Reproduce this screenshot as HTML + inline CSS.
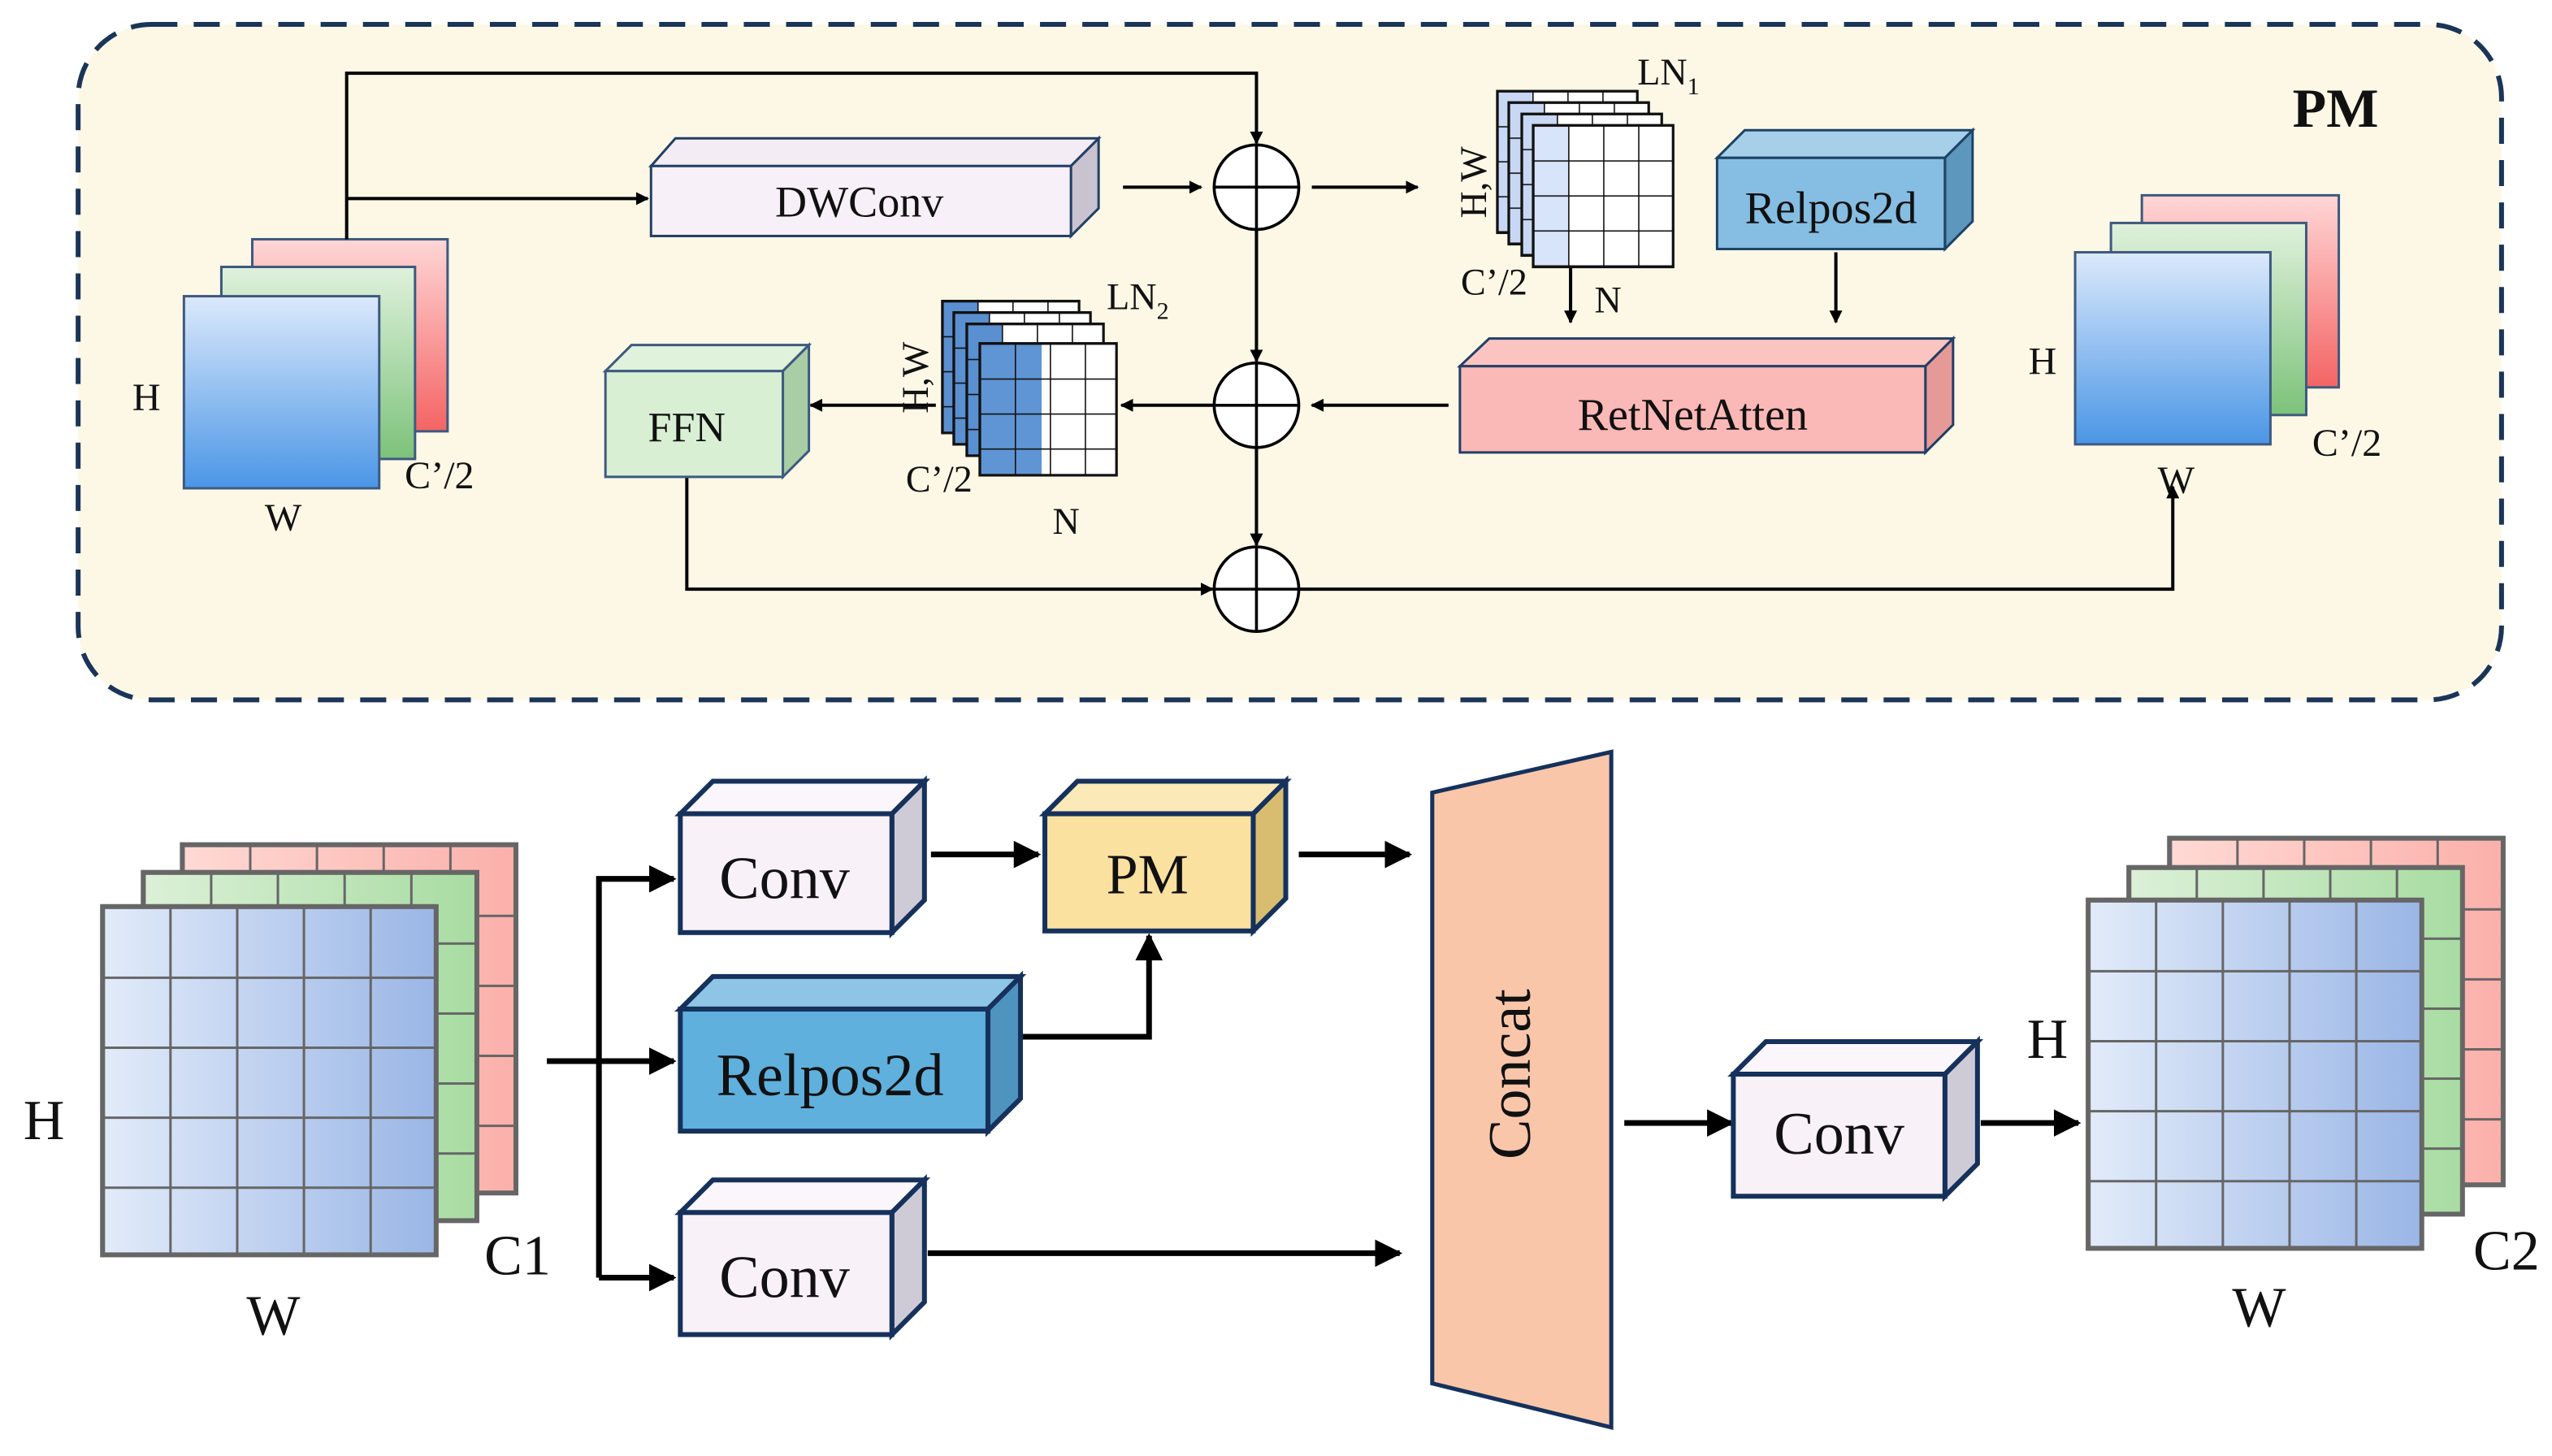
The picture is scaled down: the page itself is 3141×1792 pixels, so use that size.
<!DOCTYPE html>
<html><head><meta charset="utf-8"><style>
html,body{margin:0;padding:0;background:#fff;}
svg{display:block}
text{font-family:"Liberation Serif","DejaVu Serif","Times New Roman",serif;fill:#111}
</style></head><body>
<svg width="3141" height="1792" viewBox="0 0 1568 894.6" preserveAspectRatio="none" xmlns="http://www.w3.org/2000/svg" font-family="Liberation Serif, DejaVu Serif, serif">
<defs>
<marker id="a" viewBox="0 0 10 10" refX="9" refY="5" markerWidth="4.8" markerHeight="4.8" orient="auto"><path d="M0 0L10 5L0 10z" fill="#000"/></marker>
<marker id="b" viewBox="0 0 10 10" refX="9" refY="5" markerWidth="4" markerHeight="4" orient="auto"><path d="M0 0L10 5L0 10z" fill="#000"/></marker>
<linearGradient id="gb" x1="0" y1="0" x2="0" y2="1"><stop offset="0" stop-color="#dce9fb"/><stop offset="1" stop-color="#4a96e6"/></linearGradient>
<linearGradient id="gg" x1="0" y1="0" x2="0" y2="1"><stop offset="0" stop-color="#dff1dc"/><stop offset="1" stop-color="#7cc27a"/></linearGradient>
<linearGradient id="gr" x1="0" y1="0" x2="0" y2="1"><stop offset="0" stop-color="#ffd6d6"/><stop offset="1" stop-color="#f46464"/></linearGradient>
<linearGradient id="hb" x1="0" y1="0" x2="1" y2="0"><stop offset="0" stop-color="#e2ebf9"/><stop offset="1" stop-color="#9ab6e6"/></linearGradient>
<linearGradient id="hg" x1="0" y1="0" x2="1" y2="0"><stop offset="0" stop-color="#dcf0d8"/><stop offset="1" stop-color="#a8dca2"/></linearGradient>
<linearGradient id="hr" x1="0" y1="0" x2="1" y2="0"><stop offset="0" stop-color="#ffd9d4"/><stop offset="1" stop-color="#fbb0aa"/></linearGradient>
<pattern id="cell" patternUnits="userSpaceOnUse" width="41" height="43"><path d="M0 0H41M0 0V43" stroke="#666" stroke-width="3" fill="none"/></pattern>
<pattern id="sc" patternUnits="userSpaceOnUse" width="21.5" height="21.5"><path d="M0 0H21.5M0 0V21.5" stroke="#111" stroke-width="1.6" fill="none"/></pattern>
</defs>

<rect x="48" y="15" width="1489" height="415" rx="45" fill="#fdf8e6" stroke="#1a3558" stroke-width="3" stroke-dasharray="16 10"/>
<text x="1435" y="78" font-size="34" font-weight="bold" text-anchor="middle">PM</text>

<rect x="155" y="147" width="120" height="118" fill="url(#gr)" stroke="#3d5a80" stroke-width="1.5"/>
<rect x="136" y="164" width="119" height="118" fill="url(#gg)" stroke="#3d5a80" stroke-width="1.5"/>
<rect x="113" y="182" width="120" height="118" fill="url(#gb)" stroke="#3d5a80" stroke-width="1.5"/>
<text x="90" y="252" font-size="24" text-anchor="middle">H</text>
<text x="174" y="326" font-size="24" text-anchor="middle">W</text>
<text x="270" y="300" font-size="24" text-anchor="middle">C’/2</text>

<rect x="1316" y="120" width="121" height="118" fill="url(#gr)" stroke="#3d5a80" stroke-width="1.5"/>
<rect x="1297" y="137" width="120" height="118" fill="url(#gg)" stroke="#3d5a80" stroke-width="1.5"/>
<rect x="1275" y="155" width="120" height="118" fill="url(#gb)" stroke="#3d5a80" stroke-width="1.5"/>
<text x="1255" y="230" font-size="24" text-anchor="middle">H</text>
<text x="1337" y="303" font-size="24" text-anchor="middle">W</text>
<text x="1442" y="280" font-size="24" text-anchor="middle">C’/2</text>

<g stroke="#000" stroke-width="2" fill="none">
<path d="M213 147V45H772V88" marker-end="url(#b)"/>
<path d="M213 122H398" marker-end="url(#b)"/>
<path d="M690 115H738" marker-end="url(#b)"/>
<path d="M806 115H871" marker-end="url(#b)"/>
<path d="M965 164V198" marker-end="url(#b)"/>
<path d="M1128 155V198" marker-end="url(#b)"/>
<path d="M772 141V222" marker-end="url(#b)"/>
<path d="M890 249H806" marker-end="url(#b)"/>
<path d="M746 249H689" marker-end="url(#b)"/>
<path d="M575 249H498" marker-end="url(#b)"/>
<path d="M772 275V335" marker-end="url(#b)"/>
<path d="M422 293V362H745" marker-end="url(#b)"/>
<path d="M798 362H1335V299" marker-end="url(#b)"/>
</g>
<g stroke="#000" stroke-width="1.8" fill="#fff">
<circle cx="772" cy="115" r="26"/><path d="M746 115H798M772 89V141"/>
<circle cx="772" cy="249" r="26"/><path d="M746 249H798M772 223V275"/>
<circle cx="772" cy="362" r="26"/><path d="M746 362H798M772 336V388"/>
</g>

<g stroke="#233f66" stroke-width="1.5">
<polygon points="400,102 415,85 675,85 658,102" fill="#f3ecf4"/>
<polygon points="658,102 675,85 675,128 658,145" fill="#c9c3d0"/>
<rect x="400" y="102" width="258" height="43" fill="#f8f0f8"/>
</g>
<text x="528" y="133" font-size="27" text-anchor="middle">DWConv</text>

<g stroke="#1d4466" stroke-width="1.5">
<polygon points="1055,97 1072,80 1212,80 1195,97" fill="#a6cfe9"/>
<polygon points="1195,97 1212,80 1212,136 1195,153" fill="#5d97bd"/>
<rect x="1055" y="97" width="140" height="56" fill="#86bde2"/>
</g>
<text x="1125" y="137" font-size="28" text-anchor="middle">Relpos2d</text>

<g stroke="#233f66" stroke-width="1.5">
<polygon points="897,225 915,208 1200,208 1183,225" fill="#fbc4c0"/>
<polygon points="1183,225 1200,208 1200,261 1183,278" fill="#e59a98"/>
<rect x="897" y="225" width="286" height="53" fill="#fab8b6"/>
</g>
<text x="1040" y="264" font-size="28" text-anchor="middle">RetNetAtten</text>

<g stroke="#3d5a80" stroke-width="1.5">
<polygon points="372,228 388,212 497,212 481,228" fill="#e1f2dc"/>
<polygon points="481,228 497,212 497,277 481,293" fill="#a9cda4"/>
<rect x="372" y="228" width="109" height="65" fill="#d8efd4"/>
</g>
<text x="422" y="271" font-size="26" text-anchor="middle">FFN</text>

<g>
<g transform="translate(920,56)"><rect width="86" height="87" fill="#fff"/><rect width="22" height="87" fill="#c8d8f4"/><rect width="86" height="87" fill="url(#sc)" stroke="#111" stroke-width="1.6"/></g>
<g transform="translate(927,63)"><rect width="86" height="87" fill="#fff"/><rect width="22" height="87" fill="#c8d8f4"/><rect width="86" height="87" fill="url(#sc)" stroke="#111" stroke-width="1.6"/></g>
<g transform="translate(935,70)"><rect width="86" height="87" fill="#fff"/><rect width="22" height="87" fill="#c8d8f4"/><rect width="86" height="87" fill="url(#sc)" stroke="#111" stroke-width="1.6"/></g>
<g transform="translate(942,77)"><rect width="86" height="87" fill="#fff"/><rect width="22" height="87" fill="#d8e4fa"/><rect width="86" height="87" fill="url(#sc)" stroke="#111" stroke-width="1.6"/></g>
</g>
<text x="1006" y="52" font-size="23">LN<tspan font-size="15" dy="6">1</tspan></text>
<text transform="translate(913,112) rotate(-90)" font-size="23" text-anchor="middle">H,W</text>
<text x="918" y="181" font-size="23" text-anchor="middle">C’/2</text>
<text x="988" y="192" font-size="23" text-anchor="middle">N</text>

<g>
<g transform="translate(579,185)"><rect width="84" height="81" fill="#fff"/><rect width="22" height="81" fill="#5a8fd0"/><rect width="84" height="81" fill="url(#sc)" stroke="#111" stroke-width="1.6"/></g>
<g transform="translate(586,192)"><rect width="84" height="81" fill="#fff"/><rect width="22" height="81" fill="#5a8fd0"/><rect width="84" height="81" fill="url(#sc)" stroke="#111" stroke-width="1.6"/></g>
<g transform="translate(594,199)"><rect width="84" height="81" fill="#fff"/><rect width="22" height="81" fill="#5a8fd0"/><rect width="84" height="81" fill="url(#sc)" stroke="#111" stroke-width="1.6"/></g>
<g transform="translate(602,211)"><rect width="84" height="81" fill="#fff"/><rect width="38" height="81" fill="#5f95d4"/><rect width="84" height="81" fill="url(#sc)" stroke="#111" stroke-width="1.6"/></g>
</g>
<text x="680" y="190" font-size="23">LN<tspan font-size="15" dy="6">2</tspan></text>
<text transform="translate(570,232) rotate(-90)" font-size="23" text-anchor="middle">H,W</text>
<text x="577" y="302" font-size="23" text-anchor="middle">C’/2</text>
<text x="655" y="328" font-size="23" text-anchor="middle">N</text>

<g transform="translate(112,519)"><rect width="205" height="214" fill="url(#hr)"/><rect width="205" height="214" fill="url(#cell)" stroke="#666" stroke-width="3"/></g>
<g transform="translate(88,536)"><rect width="205" height="214" fill="url(#hg)"/><rect width="205" height="214" fill="url(#cell)" stroke="#666" stroke-width="3"/></g>
<g transform="translate(63,557)"><rect width="205" height="214" fill="url(#hb)"/><rect width="205" height="214" fill="url(#cell)" stroke="#666" stroke-width="3"/></g>
<text x="27" y="700" font-size="35" text-anchor="middle">H</text>
<text x="168" y="820" font-size="35" text-anchor="middle">W</text>
<text x="318" y="783" font-size="35" text-anchor="middle">C1</text>

<g transform="translate(1333,515)"><rect width="205" height="213" fill="url(#hr)"/><rect width="205" height="213" fill="url(#cell)" stroke="#666" stroke-width="3"/></g>
<g transform="translate(1308,533)"><rect width="205" height="213" fill="url(#hg)"/><rect width="205" height="213" fill="url(#cell)" stroke="#666" stroke-width="3"/></g>
<g transform="translate(1283,553)"><rect width="205" height="214" fill="url(#hb)"/><rect width="205" height="214" fill="url(#cell)" stroke="#666" stroke-width="3"/></g>
<text x="1258" y="650" font-size="35" text-anchor="middle">H</text>
<text x="1388" y="815" font-size="35" text-anchor="middle">W</text>
<text x="1540" y="780" font-size="35" text-anchor="middle">C2</text>

<g stroke="#000" stroke-width="3.5" fill="none">
<path d="M336 652H414" marker-end="url(#a)"/>
<path d="M368 785V540H414" marker-end="url(#a)"/>
<path d="M368 785H414" marker-end="url(#a)"/>
<path d="M572 525H638" marker-end="url(#a)"/>
<path d="M798 525H866" marker-end="url(#a)"/>
<path d="M627 637H706V575" marker-end="url(#a)"/>
<path d="M570 770H860" marker-end="url(#a)"/>
<path d="M998 690H1064" marker-end="url(#a)"/>
<path d="M1217 690H1277" marker-end="url(#a)"/>
</g>

<g stroke="#15315c" stroke-width="3">
<polygon points="418,500 438,480 568,480 548,500" fill="#fbf6fb"/>
<polygon points="548,500 568,480 568,553 548,573" fill="#cfcbd6"/>
<rect x="418" y="500" width="130" height="73" fill="#f9f1f8"/>

<polygon points="642,500 662,480 790,480 770,500" fill="#fce9b8"/>
<polygon points="770,500 790,480 790,552 770,572" fill="#d8bc70"/>
<rect x="642" y="500" width="128" height="72" fill="#fbe1a0"/>

<polygon points="418,620 438,600 627,600 607,620" fill="#8ec5e6"/>
<polygon points="607,620 627,600 627,675 607,695" fill="#4f93bf"/>
<rect x="418" y="620" width="189" height="75" fill="#5fb0dd"/>

<polygon points="418,745 438,725 568,725 548,745" fill="#fbf6fb"/>
<polygon points="548,745 568,725 568,800 548,820" fill="#cfcbd6"/>
<rect x="418" y="745" width="130" height="75" fill="#f9f1f8"/>

<polygon points="1065,660 1085,640 1215,640 1195,660" fill="#fbf6fb"/>
<polygon points="1195,660 1215,640 1215,715 1195,735" fill="#cfcbd6"/>
<rect x="1065" y="660" width="130" height="75" fill="#f9f1f8"/>

<polygon points="880,487 990,462 990,877 880,850" fill="#f9c6aa" stroke-width="2.5"/>
</g>
<text x="482" y="552" font-size="37" text-anchor="middle">Conv</text>
<text x="705" y="549" font-size="35" text-anchor="middle">PM</text>
<text x="510" y="673" font-size="37" text-anchor="middle">Relpos2d</text>
<text x="482" y="797" font-size="37" text-anchor="middle">Conv</text>
<text x="1130" y="709" font-size="37" text-anchor="middle">Conv</text>
<text transform="translate(940,660) rotate(-90)" font-size="37" text-anchor="middle">Concat</text>
</svg>
</body></html>
